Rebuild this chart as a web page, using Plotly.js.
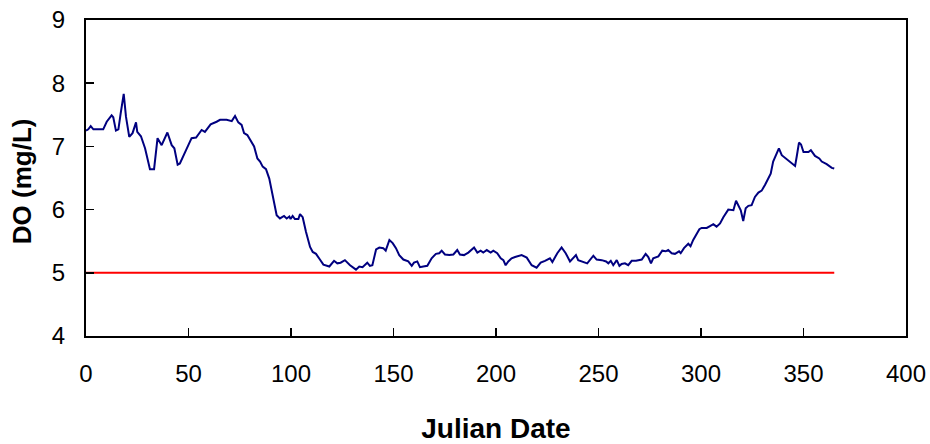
<!DOCTYPE html>
<html>
<head>
<meta charset="utf-8">
<script src="https://cdn.plot.ly/plotly-3.0.1.min.js"></script>
<style>html,body{margin:0;padding:0;background:#fff;}#chart{width:930px;height:444px;}</style>
</head>
<body>
<div id="chart"></div>
<script>
const days = [0,1.1,2.3,3.6,8.4,10.1,12.5,13.3,14.6,15.8,16.9,18.4,19.5,21.1,22.7,24.4,25.0,26.8,28.8,31.2,33.2,34.9,36.9,39.7,41.8,43.1,44.7,45.8,48.8,51.5,53.7,56.4,58.0,60.8,63.7,65.4,68.6,71.1,72.7,74.3,75.9,77.1,78.7,80.8,82.0,83.6,84.9,86.2,87.8,89.4,90.6,91.7,93.0,94.6,96.6,97.9,99.2,99.8,100.8,101.9,103.6,104.4,105.7,107.3,109.3,110.6,112.2,114.1,115.8,118.7,121.0,122.6,124.2,126.3,128.8,131.7,133.3,134.9,137.2,138.5,139.7,141.5,143.1,145.0,146.2,148.0,149.6,151.2,152.8,154.8,157.2,158.9,160.0,161.6,162.9,164.5,166.5,168.6,170.7,172.3,173.5,175.1,177.2,179.2,181.1,182.4,184.4,186.5,188.1,189.3,190.9,192.5,193.8,195.5,197.4,198.7,200.6,202.3,203.6,204.7,206.0,207.6,209.3,210.9,212.5,215.0,217.4,219.8,221.8,223.9,226.3,227.5,228.8,229.9,232.0,234.0,236.1,237.7,239.0,240.1,242.3,244.5,247.5,249.1,251.6,253.7,254.8,256.0,257.2,258.9,260.2,261.3,262.9,264.5,266.2,268.3,271.1,273.0,274.3,275.6,276.7,279.2,281.1,282.8,284.0,285.7,287.3,289.3,290.1,291.7,293.8,294.9,296.2,297.9,299.2,300.3,302.8,304.4,306.0,307.6,309.3,310.9,313.3,315.8,317.1,319.4,320.6,321.8,323.1,324.7,326.3,328.0,329.6,331.2,332.8,334.0,335.2,336.6,338.0,339.4,341.5,343.4,345.9,346.7,347.8,348.8,350.0,352.4,353.6,355.6,357.7,358.9,361.3,363.8,365];
const doValues = [7.25,7.27,7.32,7.27,7.27,7.39,7.49,7.46,7.25,7.27,7.52,7.83,7.47,7.15,7.21,7.38,7.23,7.16,6.97,6.64,6.64,7.13,7.02,7.22,7.02,6.97,6.71,6.73,6.94,7.13,7.14,7.26,7.23,7.35,7.39,7.42,7.42,7.40,7.48,7.38,7.34,7.21,7.18,7.05,7.00,6.81,6.76,6.68,6.64,6.49,6.31,6.10,5.91,5.86,5.90,5.86,5.89,5.85,5.90,5.85,5.85,5.93,5.88,5.65,5.41,5.33,5.30,5.21,5.13,5.10,5.19,5.15,5.16,5.20,5.12,5.05,5.10,5.09,5.16,5.11,5.12,5.37,5.40,5.39,5.35,5.52,5.47,5.39,5.28,5.21,5.18,5.11,5.16,5.18,5.09,5.10,5.11,5.23,5.30,5.31,5.35,5.29,5.28,5.29,5.36,5.29,5.28,5.32,5.37,5.40,5.32,5.35,5.32,5.36,5.32,5.35,5.31,5.23,5.20,5.12,5.18,5.23,5.25,5.27,5.28,5.24,5.12,5.08,5.16,5.19,5.23,5.17,5.25,5.31,5.40,5.31,5.18,5.23,5.28,5.20,5.18,5.15,5.27,5.21,5.20,5.18,5.15,5.19,5.12,5.20,5.11,5.14,5.15,5.12,5.19,5.19,5.21,5.30,5.25,5.15,5.23,5.26,5.35,5.34,5.36,5.31,5.30,5.34,5.31,5.39,5.46,5.42,5.52,5.63,5.69,5.71,5.71,5.74,5.77,5.73,5.78,5.88,6.00,5.99,6.14,5.99,5.82,6.02,6.06,6.07,6.20,6.27,6.30,6.39,6.48,6.57,6.76,6.86,6.97,6.86,6.80,6.76,6.69,6.84,7.06,7.03,6.91,6.91,6.94,6.85,6.81,6.76,6.72,6.66,6.65];
const thresholdDays = [0, 365];
const thresholdValues = [5, 5];
const xTickValues = [0, 50, 100, 150, 200, 250, 300, 350, 400];
const yTickValues = [4, 5, 6, 7, 8, 9];
const xTitle = 'Julian Date';
const yTitle = 'DO (mg/L)';

const traces = [
  {x: thresholdDays, y: thresholdValues, mode: 'lines', line: {color: '#FF0000', width: 2}, hoverinfo: 'skip'},
  {x: days, y: doValues, mode: 'lines', line: {color: '#000080', width: 2}}
];

const axisCommon = {
  showline: true, linecolor: '#000', linewidth: 2, mirror: true,
  ticks: 'inside', ticklen: 8, tickwidth: 1.5, tickcolor: '#000',
  showgrid: false, zeroline: false,
  tickfont: {family: 'Arial, Liberation Sans, sans-serif', size: 24, color: '#000'}
};

const layout = {
  width: 930, height: 444,
  margin: {l: 86, r: 24, t: 20, b: 108},
  paper_bgcolor: '#fff', plot_bgcolor: '#fff',
  showlegend: false,
  xaxis: Object.assign({}, axisCommon, {
    range: [0, 400], tickvals: xTickValues, ticklabelstandoff: 15,
    title: {text: xTitle, font: {family: 'Arial, Liberation Sans, sans-serif', size: 28, color: '#000', weight: 'bold'}, standoff: 34}
  }),
  yaxis: Object.assign({}, axisCommon, {
    range: [4, 9], tickvals: yTickValues, ticklabelstandoff: 14
  }),
  annotations: [{
    text: yTitle, xref: 'paper', yref: 'paper', x: -0.078, y: 0.49,
    xanchor: 'center', yanchor: 'middle', textangle: -90, showarrow: false,
    font: {family: 'Arial, Liberation Sans, sans-serif', size: 26, color: '#000', weight: 'bold'}
  }]
};

Plotly.newPlot('chart', traces, layout, {displayModeBar: false, staticPlot: true});
</script>
</body>
</html>
